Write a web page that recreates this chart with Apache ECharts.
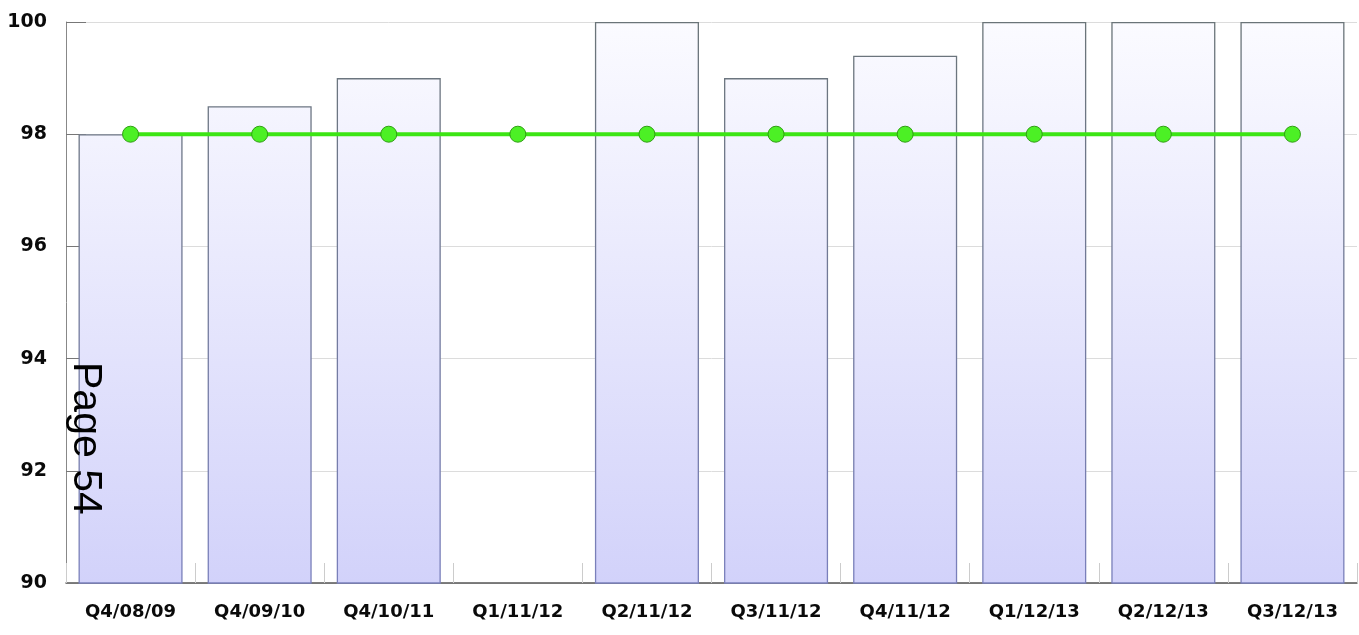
<!DOCTYPE html>
<html>
<head>
<meta charset="utf-8">
<script src="https://cdn.jsdelivr.net/npm/echarts@6/dist/echarts.min.js"></script>
<style>html,body{margin:0;padding:0;background:#fff;}#c{width:1359px;height:635px;}</style>
</head>
<body>
<div id="c"></div>
<script>
const categories = ['Q4/08/09','Q4/09/10','Q4/10/11','Q1/11/12','Q2/11/12','Q3/11/12','Q4/11/12','Q1/12/13','Q2/12/13','Q3/12/13'];
const actualValues = [98, 98.5, 99, null, 100, 99, 99.4, 100, 100, 100];
const targetValues = [98, 98, 98, 98, 98, 98, 98, 98, 98, 98];
const yTicks = {min: 90, max: 100, interval: 2};
const pageLabel = 'Page 54';

const chart = echarts.init(document.getElementById('c'));
chart.setOption({
  animation: false,
  grid: {left: 66, right: 2, top: 22, bottom: 52},
  xAxis: {
    type: 'category',
    data: categories,
    axisLine: {lineStyle: {color: '#555', width: 1.5}},
    axisTick: {show: true, inside: true, length: 20, lineStyle: {color: '#ccc'}},
    axisLabel: {color: '#0a0a0a', fontFamily: 'DejaVu Sans', fontWeight: 'bold', fontSize: 18, margin: 20},
    splitLine: {show: false}
  },
  yAxis: {
    type: 'value',
    min: yTicks.min, max: yTicks.max, interval: yTicks.interval,
    axisLine: {show: true, lineStyle: {color: '#888', width: 1}},
    axisTick: {show: true, inside: true, length: 20, lineStyle: {color: '#777'}},
    axisLabel: {color: '#0a0a0a', fontFamily: 'DejaVu Sans', fontWeight: 'bold', fontSize: 19, margin: 19},
    splitLine: {show: true, lineStyle: {color: '#dcdcdc', width: 1}}
  },
  series: [
    {
      type: 'bar',
      data: actualValues,
      barCategoryGap: '19.4%',
      itemStyle: {
        color: new echarts.graphic.LinearGradient(0, 22, 0, 583, [
          {offset: 0, color: '#fbfbff'},
          {offset: 1, color: '#d2d2fa'}
        ], true),
        borderColor: new echarts.graphic.LinearGradient(0, 22, 0, 583, [
          {offset: 0, color: '#6a7478'},
          {offset: 1, color: '#7a80bc'}
        ], true),
        borderWidth: 1.3
      }
    },
    {
      type: 'line',
      data: targetValues,
      symbol: 'circle',
      symbolSize: 16,
      lineStyle: {color: '#3ce514', width: 4},
      itemStyle: {color: '#4cf025', borderColor: '#2f9e12', borderWidth: 1},
      z: 5
    }
  ],
  graphic: [{
    type: 'text',
    left: 65, top: 362,
    rotation: -Math.PI / 2,
    originX: 0, originY: 0,
    style: {text: pageLabel, font: '41px "Liberation Sans", Arial, sans-serif', fill: '#000'},
    z: 10
  }]
});
</script>
</body>
</html>
